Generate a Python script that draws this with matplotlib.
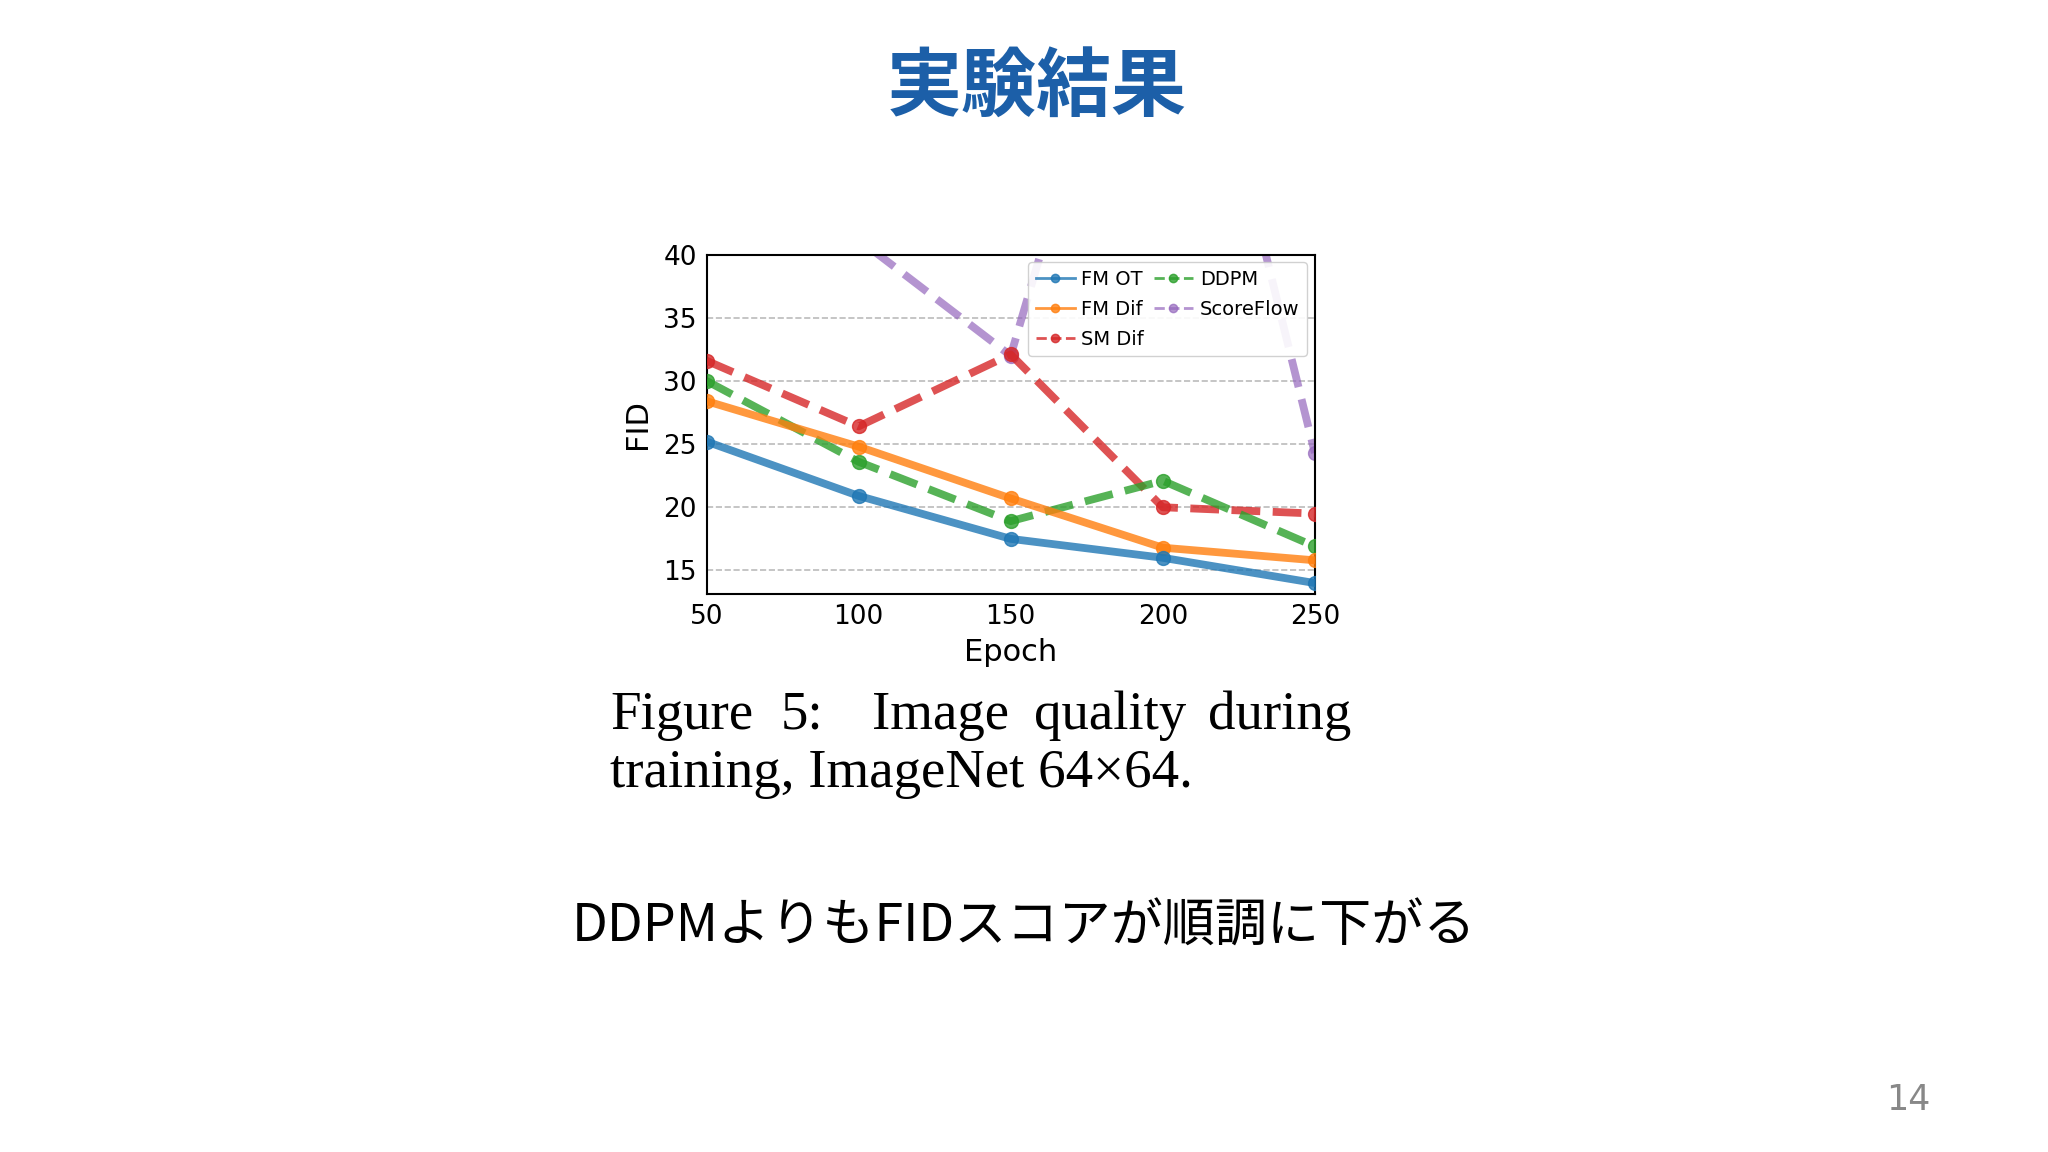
import matplotlib.pyplot as plt

# datos
epochs = [50, 100, 150, 200, 250]
fm_ot = [25.2, 20.9, 17.5, 16.0, 14.0]
fm_dif = [28.4, 24.8, 20.7, 16.8, 15.8]
sm_dif = [31.6, 26.4, 32.1, 20.0, 19.5]
ddpm = [30.0, 23.6, 18.9, 22.1, 16.9]
scoreflow = [55.0, 41.2, 32.0, 73.0, 24.3]
yticks = [15, 20, 25, 30, 35, 40]
xticks = [50, 100, 150, 200, 250]

titulo = '実験結果'
comentario = 'DDPMよりもFIDスコアが順調に下がる'
pagina = '14'

plt.rcParams['font.family'] = ['DejaVu Sans']

fig = plt.figure(figsize=(20.48, 11.52), dpi=100)
fig.patch.set_facecolor('white')

ax = fig.add_axes([0.345, 0.484, 0.297, 0.295])
lw = 5.6
ms = 10
ax.plot(epochs, fm_ot, '-o', color='tab:blue', lw=lw, ms=ms, alpha=0.8, label='FM OT', zorder=5)
ax.plot(epochs, fm_dif, '-o', color='tab:orange', lw=lw, ms=ms, alpha=0.8, label='FM Dif', zorder=4)
ax.plot(epochs, sm_dif, '--o', color='tab:red', lw=lw, ms=ms, alpha=0.8, label='SM Dif', zorder=3)
ax.plot(epochs, ddpm, '--o', color='tab:green', lw=lw, ms=ms, alpha=0.8, label='DDPM', zorder=3)
ax.plot(epochs, scoreflow, '--o', color='tab:purple', lw=lw, ms=ms, alpha=0.7, label='ScoreFlow', zorder=2)

ax.set_xlim(50, 250)
ax.set_ylim(13.1, 40)
ax.set_xticks(xticks)
ax.set_yticks(yticks)
ax.tick_params(length=0, labelsize=19, pad=7)
ax.grid(axis='y', linestyle='--', color='#bbbbbb', lw=1.2)
ax.set_axisbelow(True)
for s in ax.spines.values():
    s.set_linewidth(1.5)
ax.set_xlabel('Epoch', fontsize=22, labelpad=6)
ax.set_ylabel('FID', fontsize=22, labelpad=8)

leg = ax.legend(ncol=2, loc='upper right', fontsize=14, handlelength=2.0,
                handletextpad=0.35, columnspacing=0.5, labelspacing=0.55,
                borderaxespad=0.4, framealpha=0.9)
for l in leg.get_lines():
    l.set_linewidth(2)
    l.set_markersize(6)

# titulo y textos de la diapositiva
fig.text(0.506, 0.924, titulo, ha='center', va='center', fontsize=54,
         fontweight='bold', color='#1c5fa8', family=['Noto Sans CJK JP'])

palabras = [('Figure', 0.298), ('5:', 0.381), ('Image', 0.426), ('quality', 0.505)]
for w, x in palabras:
    fig.text(x, 0.379, w, ha='left', va='center', fontsize=39.5, family='Liberation Serif')
fig.text(0.660, 0.379, 'during', ha='right', va='center', fontsize=39.5, family='Liberation Serif')
fig.text(0.298, 0.328, 'training, ImageNet 64×64.', ha='left', va='center', fontsize=39.5,
         family='Liberation Serif')

fig.text(0.500, 0.195, comentario, ha='center', va='center', fontsize=37.5,
         family=['Noto Sans CJK JP', 'DejaVu Sans'])
fig.text(0.932, 0.045, pagina, ha='center', va='center', fontsize=25, color='#888888')

fig.savefig('out.png', dpi=100)
